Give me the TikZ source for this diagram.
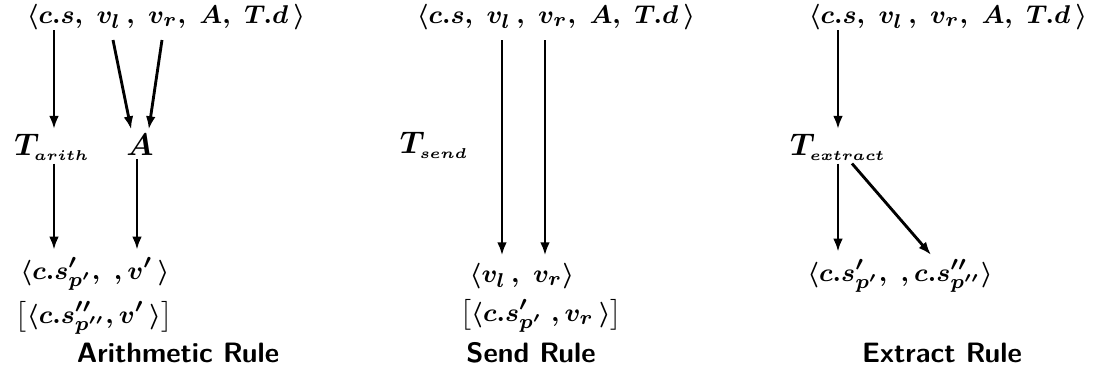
\documentclass[tikz,border=0pt]{standalone}
\usepackage{amsmath}
\usepackage{bm}
\usepackage{tikz}
\usetikzlibrary{arrows.meta,positioning,calc}
\tikzset{
  flowarrow/.style={-{Latex[length=4.6pt,width=3.4pt]}, line width=1pt, draw=black, shorten >=0.5pt},
  tuple/.style={inner sep=0pt, font=\boldmath\fontsize{9.5}{11}\selectfont},
  trans/.style={inner sep=1pt, font=\boldmath\fontsize{11}{12}\selectfont},
  rulename/.style={inner sep=1pt, font=\sffamily\bfseries\fontsize{9.8}{12}\selectfont}
}
\newcommand{\tup}{\langle c.s,\;v_l\,,\;v_r,\;A,\;T.d\,\rangle}

\begin{document}
\begin{tikzpicture}[x=0.35pt, y=-0.35pt]
    \useasboundingbox (0,0) rectangle (1100,378);

    % Arithmetic rule
    \node[tuple] (top1) at (166,17) {$\tup$};
    \node[trans] (tarith) at (52,147) {$T_{\scriptscriptstyle arith}$};
    \node[trans] (aop) at (140,145) {$A$};
    \node[tuple] (res1) at (95,274) {$\langle c.s'_{p'},\;,v'\,\rangle$};
    \node[tuple] (alt1) at (94,318) {$\bigl[\langle c.s''_{p''},v'\,\rangle\bigr]$};
    \node[rulename] (name1) at (178,353) {Arithmetic Rule};
    \coordinate (vl1) at (113,40);
    \coordinate (vr1) at (162,40);

    \draw[flowarrow] (top1.south -| 54,0) -- (tarith.north -| 54,0);
    \draw[flowarrow] (vl1) -- ([xshift=-3pt]aop.north);
    \draw[flowarrow] (vr1) -- ([xshift=3pt]aop.north);
    \draw[flowarrow] (tarith.south -| 54,0) -- ([yshift=2pt]res1.north -| 54,0);
    \draw[flowarrow] (aop.south -| 137,0) -- ([yshift=2pt]res1.north -| 137,0);

    % Send rule
    \node[tuple] (top2) at (556,17) {$\tup$};
    \node[trans] (tsend) at (434,145) {$T_{\scriptscriptstyle send}$};
    \node[tuple] (res2) at (522,276) {$\langle v_l\,,\;v_r\rangle$};
    \node[tuple] (alt2) at (541,316) {$\bigl[\langle c.s'_{p'}\;,v_r\,\rangle\bigr]$};
    \node[rulename] (name2) at (531,353) {Send Rule};
    \coordinate (vl2) at (502,40);
    \coordinate (vr2) at (545,40);

    \draw[flowarrow] (vl2) -- ([yshift=2pt]res2.north -| vl2);
    \draw[flowarrow] (vr2) -- ([yshift=2pt]res2.north -| vr2);

    % Extract rule
    \node[tuple] (top3) at (948,17) {$\tup$};
    \node[trans] (textract) at (838,147) {$T_{\scriptscriptstyle extract}$};
    \node[tuple] (res3) at (900,276) {$\langle c.s'_{p'},\;,c.s''_{p''}\rangle$};
    \node[rulename] (name3) at (942,353) {Extract Rule};
    \coordinate (ext2) at (932,256);

    \draw[flowarrow] (top3.south -| 838,0) -- (textract.north -| 838,0);
    \draw[flowarrow] (textract.south -| 838,0) -- ([yshift=2pt]res3.north -| 838,0);
    \draw[flowarrow] (textract.south -| 852,0) -- (ext2);
\end{tikzpicture}
\end{document}
